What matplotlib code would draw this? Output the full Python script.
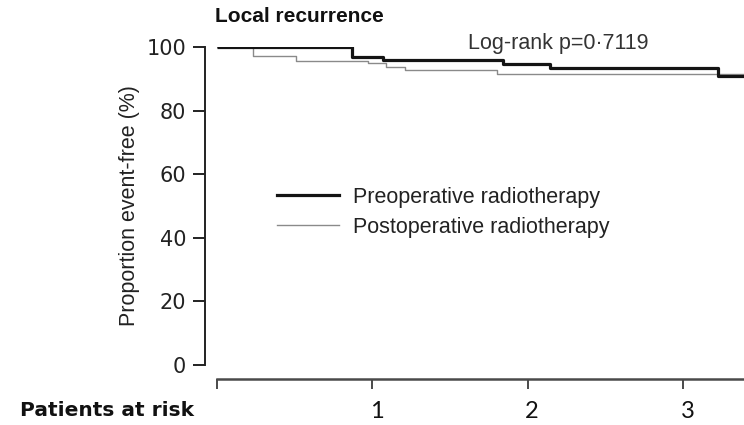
import matplotlib
matplotlib.use("Agg")
import matplotlib.pyplot as plt
from matplotlib.lines import Line2D
from matplotlib.transforms import ScaledTranslation

# Kaplan-Meier estimates (years, % event-free)
preop_years = [0, 0.87, 1.07, 1.84, 2.14, 3.22, 3.39]
preop_free = [100, 97.0, 95.9, 94.6, 93.3, 91.0, 91.0]

postop_years = [0, 0.23, 0.51, 0.97, 1.09, 1.21, 1.80, 3.39]
postop_free = [100, 97.3, 95.6, 94.9, 93.8, 92.8, 91.6, 91.6]

y_ticks = [0, 20, 40, 60, 80, 100]
x_ticks = [0, 1, 2, 3]
x_tick_labels = ["", "1", "2", "3"]
series_labels = ["Preoperative radiotherapy", "Postoperative radiotherapy"]

W, H = 744, 425
fig = plt.figure(figsize=(W / 100, H / 100), dpi=100)
fig.patch.set_facecolor("white")

x_left, x_right = 217, 744
y_top, y_bot = 47, 365
ax = fig.add_axes([x_left / W, 1 - y_bot / H, (x_right - x_left) / W, (y_bot - y_top) / H])
ax.set_xlim(0, 3.39)
ax.set_ylim(0, 100)

ax.step(preop_years, preop_free, where="post", color="#141414", lw=2.3,
        solid_capstyle="butt", zorder=3)
ax.step(postop_years, postop_free, where="post", color="#8a8a8a", lw=1.0, zorder=2)

for s in ("top", "right"):
    ax.spines[s].set_visible(False)
ax.spines["left"].set_position(("outward", 8.6))
ax.spines["left"].set_bounds(0, 100)
ax.spines["left"].set_linewidth(1.4)
ax.spines["left"].set_color("#222222")
ax.spines["bottom"].set_position(("outward", 10))
ax.spines["bottom"].set_linewidth(1.8)
ax.spines["bottom"].set_color("#4a4a4a")

ax.set_yticks(y_ticks)
ax.set_yticklabels([str(v) for v in y_ticks], fontfamily="DejaVu Sans", fontsize=15,
                   color="#222222")
ax.tick_params(axis="y", direction="out", length=8.5, width=1.4, color="#222222", pad=5)

ax.set_xticks(x_ticks)
ax.set_xticklabels(x_tick_labels, fontfamily="Lato", fontsize=17, color="#111111")
ax.tick_params(axis="x", direction="out", length=7, width=1.4, color="#4a4a4a", pad=9)
shift = ScaledTranslation(4 / 100, 0, fig.dpi_scale_trans)
for lbl in ax.get_xticklabels():
    lbl.set_transform(lbl.get_transform() + shift)

ax.set_ylabel("Proportion event-free (%)", fontfamily="Liberation Sans", fontsize=15.5,
              color="#222222", labelpad=5)

fig.text(215 / W, 1 - 17 / H, "Local recurrence", fontfamily="Liberation Sans",
         fontweight="bold", fontsize=15, ha="left", va="center", color="#111111")
fig.text(468 / W, 1 - 44 / H, "Log-rank p=0\u00b77119", fontfamily="Liberation Sans",
         fontsize=15.5, ha="left", va="center", color="#333333")
fig.text(20 / W, 1 - 411 / H, "Patients at risk", fontfamily="DejaVu Sans",
         fontweight="bold", fontsize=14.5, ha="left", va="center", color="#111111")

handles = [Line2D([], [], color="#141414", lw=2.3),
           Line2D([], [], color="#8a8a8a", lw=1.0)]
leg = ax.legend(handles, series_labels, loc="upper left",
                bbox_to_anchor=(277 / W, 1 - 187 / H), bbox_transform=fig.transFigure,
                frameon=False, borderpad=0, borderaxespad=0, handlelength=2.9,
                handletextpad=0.65, labelspacing=0.4,
                prop={"family": "Liberation Sans", "size": 15.5})
for t in leg.get_texts():
    t.set_color("#222222")

fig.savefig("out.png", dpi=100, facecolor="white")
